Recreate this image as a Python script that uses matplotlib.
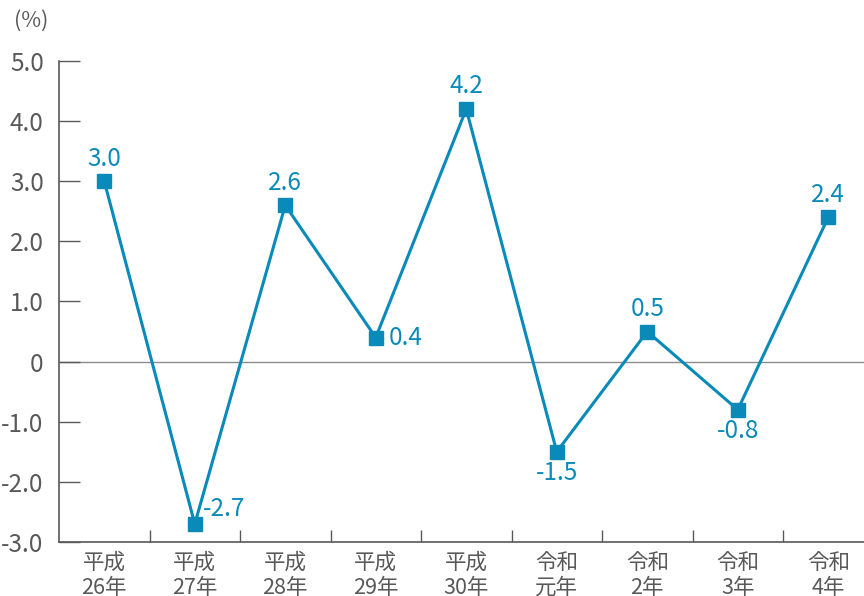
import numpy as np
import matplotlib.pyplot as plt

plt.rcParams['font.family'] = ['Noto Sans CJK JP', 'DejaVu Sans']

years = ['平成\n26年', '平成\n27年', '平成\n28年', '平成\n29年', '平成\n30年',
         '令和\n元年', '令和\n2年', '令和\n3年', '令和\n4年']
values = [3.0, -2.7, 2.6, 0.4, 4.2, -1.5, 0.5, -0.8, 2.4]
label_pos = ['top', 'upright', 'top', 'right', 'top', 'bottom', 'top', 'bottom', 'top']
yticks = [5.0, 4.0, 3.0, 2.0, 1.0, 0, -1.0, -2.0, -3.0]
ytick_labels = ['5.0', '4.0', '3.0', '2.0', '1.0', '0', '-1.0', '-2.0', '-3.0']

blue = '#0a8ab8'
gray = '#595959'

fig = plt.figure(figsize=(8.64, 5.96), dpi=100)
ax = fig.add_axes([0.0683, 0.0906, 0.9317, 0.8071])

x = np.arange(len(values))
ax.axhline(0, color='#8c8c8c', lw=1.0, zorder=1)
ax.plot(x, values, color=blue, lw=2.2, marker='s', markersize=9.5, zorder=3)

for xi, v, p in zip(x, values, label_pos):
    txt = f'{v:.1f}'
    if p == 'top':
        ax.annotate(txt, (xi, v), xytext=(0, 7), textcoords='offset points',
                    ha='center', va='bottom', color=blue, fontsize=17.5)
    elif p == 'bottom':
        ax.annotate(txt, (xi, v), xytext=(0, -6), textcoords='offset points',
                    ha='center', va='top', color=blue, fontsize=17.5)
    elif p == 'upright':
        ax.annotate(txt, (xi, v), xytext=(6, 11), textcoords='offset points',
                    ha='left', va='center', color=blue, fontsize=17.5)
    else:
        ax.annotate(txt, (xi, v), xytext=(9, 0), textcoords='offset points',
                    ha='left', va='center', color=blue, fontsize=17.5)

ax.set_ylim(-3, 5)
ax.set_xlim(-0.5, 8.395)
ax.set_yticks(yticks)
ax.set_yticklabels(ytick_labels, fontsize=17.5, color=gray)

# category boundaries as ticks, labels at centers
ax.set_xticks(np.arange(0.5, 8, 1.0))
ax.set_xticklabels([])
ax.set_xticks(x, minor=True)
ax.set_xticklabels(years, minor=True, fontsize=15.5, color=gray, linespacing=1.2)
ax.tick_params(axis='x', which='major', direction='in', length=9, width=1, color=gray)
ax.tick_params(axis='x', which='minor', length=0, pad=7)
ax.tick_params(axis='y', direction='in', length=15, width=1, color=gray, pad=11)

for s in ['top', 'right']:
    ax.spines[s].set_visible(False)
for s in ['left', 'bottom']:
    ax.spines[s].set_color(gray)
    ax.spines[s].set_linewidth(1.2)

fig.text(0.016, 0.965, '(%)', fontsize=15.5, color=gray, va='center', ha='left')

plt.savefig('out.png', dpi=100)
plt.close()
